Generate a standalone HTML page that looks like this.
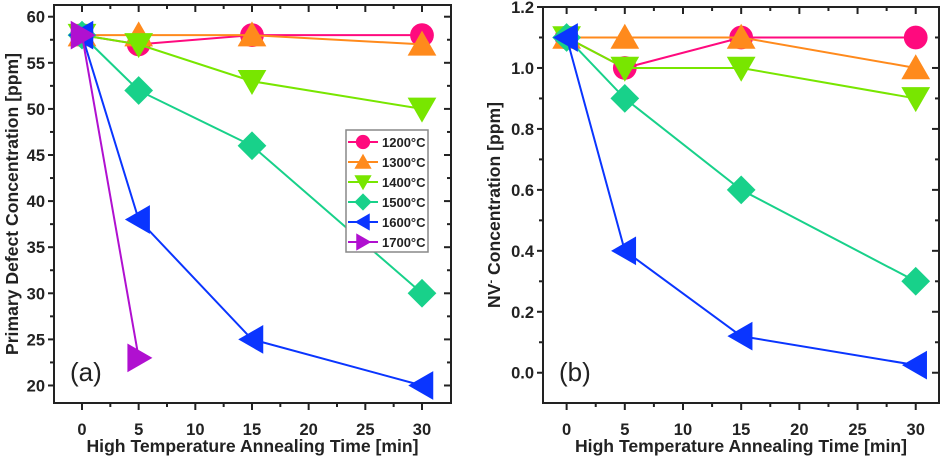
<!DOCTYPE html>
<html><head><meta charset="utf-8"><style>
body{margin:0;background:#fff;width:941px;height:458px;overflow:hidden}
svg{font-family:"Liberation Sans",Arial,sans-serif}
</style></head><body>
<svg id="c" width="941" height="458"></svg>
<script>
const times=[0,5,15,30];
const seriesNames=["1200°C","1300°C","1400°C","1500°C","1600°C","1700°C"];
const colors=["#ff0a7e","#ff8a1c","#78e600","#18d18a","#0a35ff","#b010d0"];
const shapes=["circle","up","down","diamond","left","right"];
const defectVals=[[58,57,58,58],[58,58,58,57],[58,57,53,50],[58,52,46,30],[58,38,25,20],[58,23]];
const nvVals=[[1.1,1.0,1.1,1.1],[1.1,1.1,1.1,1.0],[1.1,1.0,1.0,0.9],[1.1,0.9,0.6,0.3],[1.1,0.4,0.12,0.025]];
const xTicks=[0,5,10,15,20,25,30];
const yTicksA=[20,25,30,35,40,45,50,55,60];
const yTicksB=[0.0,0.2,0.4,0.6,0.8,1.0,1.2];
const NS="http://www.w3.org/2000/svg";
const svg=document.getElementById('c');
function mk(t,a,p){const e=document.createElementNS(NS,t);for(const k in a)e.setAttribute(k,a[k]);(p||svg).appendChild(e);return e;}
function marker(g,shape,cx,cy,col,r){
 let e;
 if(shape==="circle")e=mk('circle',{cx:cx,cy:cy,r:r*0.95,fill:col},g);
 else{let pts;
  if(shape==="up")pts=[[0,-r*1.1],[r*1.15,r*0.9],[-r*1.15,r*0.9]];
  else if(shape==="down")pts=[[0,r*1.1],[r*1.15,-r*0.9],[-r*1.15,-r*0.9]];
  else if(shape==="diamond")pts=[[0,-r*1.15],[r*1.15,0],[0,r*1.15],[-r*1.15,0]];
  else if(shape==="left")pts=[[-r*1.1,0],[r*0.9,-r*1.15],[r*0.9,r*1.15]];
  else pts=[[r*1.1,0],[-r*0.9,-r*1.15],[-r*0.9,r*1.15]];
  e=mk('polygon',{points:pts.map(p=>(cx+p[0])+','+(cy+p[1])).join(' '),fill:col},g);}
 return e;}
function panel(o){
 const X=v=>o.x0+(v-o.xmin)/(o.xmax-o.xmin)*(o.x1-o.x0);
 const Y=v=>o.y1-(v-o.ymin)/(o.ymax-o.ymin)*(o.y1-o.y0);
 const g=mk('g',{});
 
 
 const ax=mk('g',{stroke:'#222','stroke-width':2},g);
 
 
 mk('rect',{x:o.x0,y:o.y0,width:o.x1-o.x0,height:o.y1-o.y0,fill:'none'},ax);
 for(let i=0;i<xTicks.length;i++){const v=xTicks[i],x=X(v);
  mk('line',{x1:x,y1:o.y1,x2:x,y2:o.y1+7},ax);mk('line',{x1:x,y1:o.y0,x2:x,y2:o.y0+7},ax);
  if(i<xTicks.length-1){const xm=X(v+2.5);mk('line',{x1:xm,y1:o.y1,x2:xm,y2:o.y1+4},ax);mk('line',{x1:xm,y1:o.y0,x2:xm,y2:o.y0+4},ax);}
  const t=mk('text',{x:x,y:o.y1+32,'text-anchor':'middle','font-size':16.5,'font-weight':'bold',fill:'#222'},g);t.textContent=v;
  
  }
 const yt=o.yticks,step=yt[1]-yt[0];
 for(let i=0;i<yt.length;i++){const v=yt[i],y=Y(v);
  mk('line',{x1:o.x0-6,y1:y,x2:o.x0,y2:y},ax);mk('line',{x1:o.x1-7,y1:y,x2:o.x1,y2:y},ax);
  const ym=Y(v+step/2);if(ym>o.y0){mk('line',{x1:o.x0-4,y1:ym,x2:o.x0,y2:ym},ax);mk('line',{x1:o.x1-4,y1:ym,x2:o.x1,y2:ym},ax);}
  const ym2=Y(v-step/2);if(i==0&&ym2<o.y1){mk('line',{x1:o.x0-4,y1:ym2,x2:o.x0,y2:ym2},ax);mk('line',{x1:o.x1-4,y1:ym2,x2:o.x1,y2:ym2},ax);}
  const t=mk('text',{x:o.x0-9,y:y+6,'text-anchor':'end','font-size':16.5,'font-weight':'bold',fill:'#222'},g);t.textContent=o.fmt(v);
  
  }
 const xt=mk('text',{x:(o.x0+o.x1)/2,y:452,'text-anchor':'middle','font-size':17.6,'font-weight':'bold',fill:'#222'},g);
 xt.textContent="High Temperature Annealing Time [min]";
 
 
 const ytl=mk('text',{x:0,y:0,'text-anchor':'middle','font-size':17.6,'font-weight':'bold',fill:'#222',transform:`translate(${o.ytx},${(o.y0+o.y1)/2}) rotate(-90)`},g);
 ytl.innerHTML=o.ytitle;
 
 
 const pl=mk('text',{x:o.x0+16,y:o.y1-22,'font-size':26,fill:'#222'},g);pl.textContent=o.label;
 
 
 o.vals.forEach((vals,s)=>{
  const sg=mk('g',{},g);
  
  
  const pts=vals.map((v,i)=>X(times[i])+','+Y(v)).join(' ');
  const ln=mk('polyline',{points:pts,fill:'none',stroke:colors[s],'stroke-width':2},sg);
  
  
  vals.forEach((v,i)=>{const m=marker(sg,shapes[s],X(times[i]),Y(v),colors[s],12.5);
   
   });
 });
 return {X,Y,g};
}
panel({name:'panel-a',x0:54,x1:451,y0:5,y1:403,xmin:-2.47,xmax:32.56,ymin:18.1,ymax:61.27,yticks:yTicksA,fmt:v=>v,vals:defectVals,label:'(a)',ytx:18,ytitle:'Primary Defect Concentration [ppm]'});
panel({name:'panel-b',x0:543,x1:939,y0:7,y1:403,xmin:-2.03,xmax:32.0,ymin:-0.0993,ymax:1.2,yticks:yTicksB,fmt:v=>v.toFixed(1),vals:nvVals,label:'(b)',ytx:500,ytitle:'NV<tspan baseline-shift="super" font-size="11">-</tspan> Concentration [ppm]'});
const lg=mk('g',{});


mk('rect',{x:346,y:130,width:82,height:122,fill:'#fff',stroke:'#888','stroke-width':1.5},lg);
seriesNames.forEach((n,s)=>{const y=142+s*20;
 const e=mk('g',{},lg);
 
 
 mk('line',{x1:348,y1:y,x2:378,y2:y,stroke:colors[s],'stroke-width':2},e);
 marker(e,shapes[s],363,y,colors[s],7.5);
 const t=mk('text',{x:382,y:y+5,'font-size':13,'font-weight':'bold',fill:'#222'},e);t.textContent=n;});
</script>
</body></html>
